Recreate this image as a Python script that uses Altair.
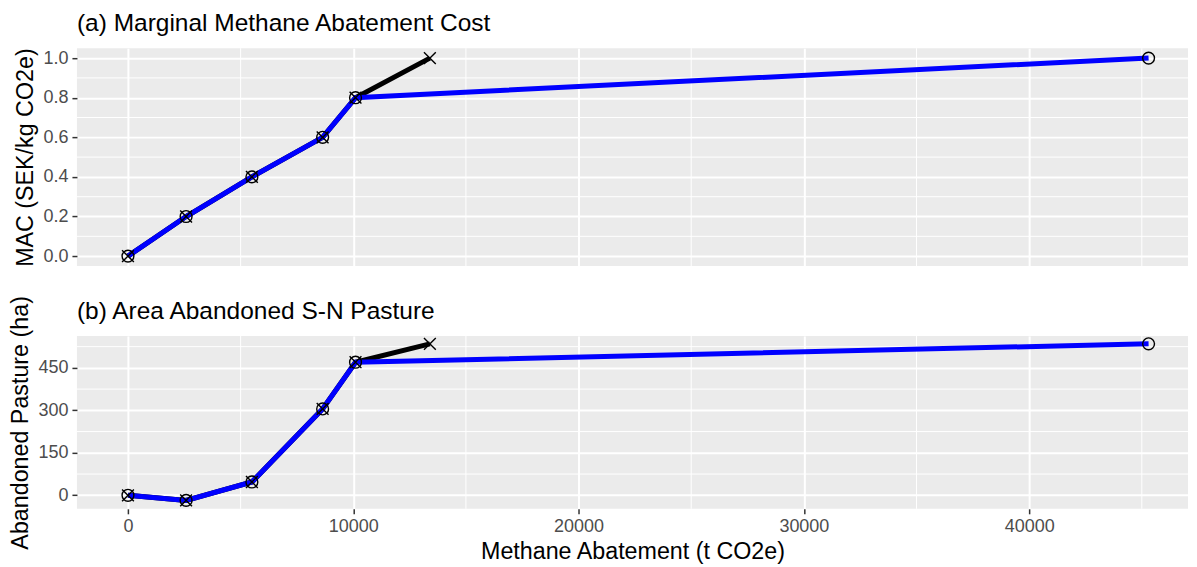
import altair as alt
import pandas as pd

# ---- data ----
x_shared = [0, 2580, 5500, 8640, 10100]
mac_shared = [0.0, 0.2, 0.4, 0.6, 0.8]
past_shared = [0, -18, 47, 305, 470]

x_black_end = 13400
x_blue_end = 45300
mac_end = 1.0
past_end = 535

x_ticks = [0, 10000, 20000, 30000, 40000]
x_minor = [5000, 15000, 25000, 35000, 45000]
mac_ticks = [0.0, 0.2, 0.4, 0.6, 0.8, 1.0]
mac_minor = [0.1, 0.3, 0.5, 0.7, 0.9]
past_ticks = [0, 150, 300, 450]
past_minor = [75, 225, 375, 525]

black = pd.DataFrame({
    "x": x_shared + [x_black_end],
    "mac": mac_shared + [mac_end],
    "past": past_shared + [past_end],
})
blue = pd.DataFrame({
    "x": x_shared + [x_blue_end],
    "mac": mac_shared + [mac_end],
    "past": past_shared + [past_end],
})

FONT = "Liberation Sans"
XPATH = "M-1,-1L1,1M-1,1L1,-1"
PLOT_W = 1112


def panel(yfield, title, ytitle, ydomain, yticks, yminor, yfmt, height, show_x, toff):
    xscale = alt.Scale(domain=[-2265, 47050], nice=False, zero=False)
    yscale = alt.Scale(domain=ydomain, nice=False, zero=False)
    if show_x:
        xaxis = alt.Axis(values=x_ticks, format="d", title="Methane Abatement (t CO2e)",
                         labelFlush=False)
    else:
        xaxis = alt.Axis(values=x_ticks, labels=False, ticks=False, title=None)
    yaxis = alt.Axis(values=yticks, format=yfmt, title=ytitle)

    vminor = alt.Chart(pd.DataFrame({"x": x_minor})).mark_rule(
        color="white", strokeWidth=1
    ).encode(x=alt.X("x:Q", scale=xscale, axis=xaxis))
    hminor = alt.Chart(pd.DataFrame({yfield: yminor})).mark_rule(
        color="white", strokeWidth=1
    ).encode(y=alt.Y(f"{yfield}:Q", scale=yscale, axis=yaxis))

    def enc(df):
        return alt.Chart(df).encode(
            x=alt.X("x:Q", scale=xscale, axis=xaxis),
            y=alt.Y(f"{yfield}:Q", scale=yscale, axis=yaxis),
        )

    black_line = enc(black).mark_line(color="black", strokeWidth=5)
    blue_line = enc(blue).mark_line(color="#0000FF", strokeWidth=5)
    circles = enc(blue).mark_point(shape="circle", size=140, filled=False,
                                   color="black", strokeWidth=1.4, opacity=1)
    crosses = enc(black).mark_point(shape=XPATH, size=140, filled=False,
                                    color="black", strokeWidth=1.4, opacity=1)

    return alt.layer(vminor, hminor, black_line, blue_line, circles, crosses).properties(
        width=PLOT_W,
        height=height,
        title=alt.TitleParams(title, anchor="start", frame="group", fontSize=24.5,
                              font=FONT, fontWeight="normal", color="black",
                              baseline="alphabetic", offset=toff),
    )


top = panel("mac", "(a) Marginal Methane Abatement Cost", "MAC (SEK/kg CO2e)",
            [-0.05, 1.05], mac_ticks, mac_minor, ".1f", 218, False, -8)
bottom = panel("past", "(b) Area Abandoned S-N Pasture", "Abandoned Pasture (ha)",
               [-47.75, 562.75], past_ticks, past_minor, "d", 173, True, -48)

chart = alt.vconcat(top, bottom, spacing=28).properties(
    padding={"left": 0, "top": 3, "right": 0, "bottom": 0}
).configure_view(
    fill="#EBEBEB", stroke=None
).configure_axis(
    domain=False,
    grid=True, gridColor="white", gridWidth=2,
    tickColor="#333333", tickSize=5, tickWidth=1.5,
    labelFont=FONT, labelFontSize=18, labelColor="#4D4D4D", labelPadding=4,
    titleFont=FONT, titleFontSize=23.3, titleColor="black", titleFontWeight="normal",
    titlePadding=5,
)

chart.save("out.html", embed_options={"renderer": "svg", "actions": False})
